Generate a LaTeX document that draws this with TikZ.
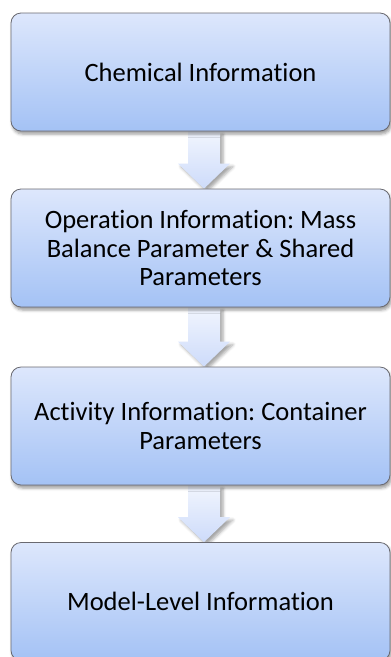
\documentclass[tikz,border=0pt]{standalone}
\usepackage{fontspec}
\setmainfont{Carlito}[Ligatures=NoCommon]
\frenchspacing
\usetikzlibrary{shadows.blur,calc}
\definecolor{boxtop}{RGB}{221,231,252}
\definecolor{boxbot}{RGB}{164,194,245}
\definecolor{boxline}{RGB}{105,105,112}
\definecolor{arrtop}{RGB}{241,245,254}
\definecolor{arrbot}{RGB}{205,219,250}
\pgfdeclarelayer{background}
\pgfsetlayers{background,main}
% block arrow from the bottom of one box to the top of the next
\newcommand\blockarrow[2]{%
  \path[flowarrow]
    ($(#1.south)+(-12.5,0)$) -- ($(#1.south)+(19.5,0)$)
    -- ($(#2.north)+(19.5,25)$) -- ($(#2.north)+(29.5,25)$)
    -- ($(#2.north)+(3.5,0)$)
    -- ($(#2.north)+(-22.5,25)$) -- ($(#2.north)+(-12.5,25)$) -- cycle;}
\begin{document}
\begin{tikzpicture}[x=1pt,y=1pt,
  infobox/.style={draw=boxline, line width=0.8pt, rounded corners=10pt,
    top color=boxtop, bottom color=boxbot,
    minimum width=379pt, minimum height=118pt, inner sep=0pt, align=center,
    font=\fontsize{26.5}{28.5}\selectfont,
    blur shadow={shadow xshift=1.5pt, shadow yshift=-3pt,
      shadow blur radius=3pt, shadow opacity=40}},
  flowarrow/.style={top color=arrtop, bottom color=arrbot,
    blur shadow={shadow xshift=3pt, shadow yshift=-3pt,
      shadow blur radius=3pt, shadow opacity=35}}]
\useasboundingbox (0,0) rectangle (391,-657);

\node[infobox] (chem) at (200.5,-72) {Chemical Information};
\node[infobox] (oper) at (200.5,-248)
  {Operation Information: Mass\\Balance Parameter \& Shared\\Parameters};
\node[infobox] (act) at (200.5,-426)
  {Activity Information: Container\\Parameters};
\node[infobox] (model) at (200.5,-601.5) {Model-Level Information};

\begin{pgfonlayer}{background}
  \blockarrow{chem}{oper}
  \blockarrow{oper}{act}
  \blockarrow{act}{model}
\end{pgfonlayer}
\end{tikzpicture}
\end{document}
